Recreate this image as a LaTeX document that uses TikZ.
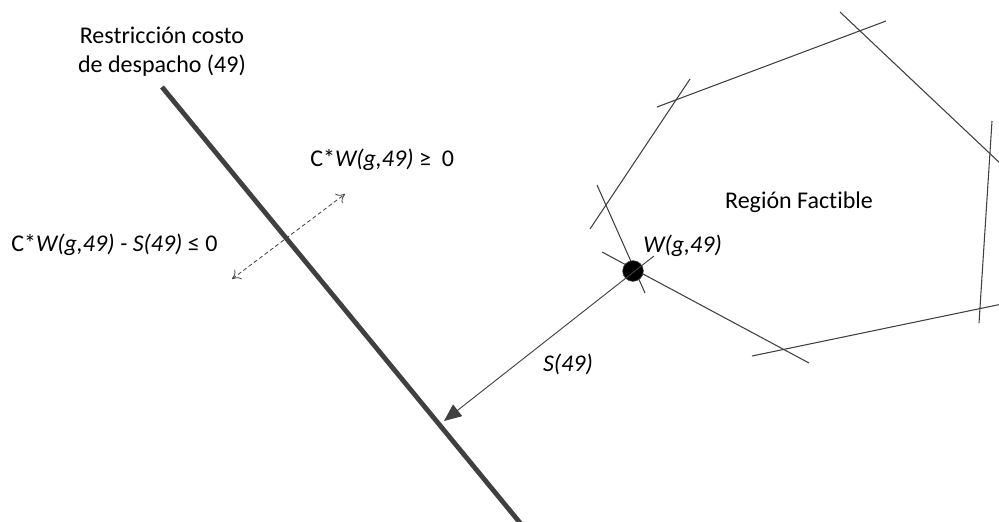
\documentclass[tikz,border=0pt]{standalone}
\usepackage{fontspec}
\setmainfont{Carlito}[Ligatures=NoCommon]
\usetikzlibrary{arrows.meta}
\definecolor{ink}{HTML}{404040}
\tikzset{
  lbl/.style={inner sep=0pt, font=\fontsize{18}{22}\selectfont, text=black},
  facet/.style={draw=ink, line width=0.8pt},
  bound/.style={draw=ink, line width=3.6pt},
  dir/.style={draw=ink, line width=0.6pt, dashed, dash pattern=on 3pt off 2pt,
    {To[length=6pt,width=9pt]}-{To[length=6pt,width=9pt]}},
  moveto/.style={draw=ink, line width=0.7pt, -{Triangle[length=13pt,width=11pt]}},
  vertex/.style={circle, fill=black, draw=ink, minimum size=15.5pt, inner sep=0pt}
}
\begin{document}
\begin{tikzpicture}[x=0.75pt, y=-0.75pt]
\useasboundingbox (0,0) rectangle (999,521);

% dispatch cost constraint
\coordinate (b1) at (162,87);
\coordinate (b2) at (521,524);
\draw[bound] (b1) -- (b2);
\node[lbl, align=center] (title) at (162,52) {Restricción costo\\de despacho (49)};

% direction of the two half-spaces
\coordinate (d1) at (232,279);
\coordinate (d2) at (345,194);
\draw[dir] (d1) -- (d2);
\node[lbl, anchor=west] (ge) at (310,160) {C*\textit{W(g,49)} ≥\ \ 0};
\node[lbl, anchor=west] (le) at (11,245) {C*\textit{W(g,49) - S(49)} ≤ 0};

% facets of the feasible region
\coordinate (a1) at (590,229); \coordinate (a2) at (690,79);
\coordinate (c1) at (657,107); \coordinate (c2) at (886,21);
\coordinate (e1) at (840,12);  \coordinate (e2) at (1002,165);
\coordinate (f1) at (992,121); \coordinate (f2) at (979,323);
\coordinate (g1) at (752,356); \coordinate (g2) at (1002,304);
\coordinate (h1) at (602,252); \coordinate (h2) at (809,363);
\coordinate (k1) at (597,185); \coordinate (k2) at (645,293);
\foreach \p/\q in {a1/a2, c1/c2, e1/e2, f1/f2, g1/g2, h1/h2, k1/k2}
  \draw[facet] (\p) -- (\q);
\node[lbl] (region) at (799,202) {Región Factible};

% operating point and its shift onto the constraint
\node[vertex] (w) at (633,271) {};
\node[lbl, anchor=west] (wlbl) at (643,246) {\textit{W(g,49)}};
\coordinate (s0) at (654,256);
\coordinate (foot) at (444,421);
\draw[moveto] (s0) -- (foot);
\node[lbl] (slbl) at (568,364) {\textit{S(49)}};
\end{tikzpicture}
\end{document}
